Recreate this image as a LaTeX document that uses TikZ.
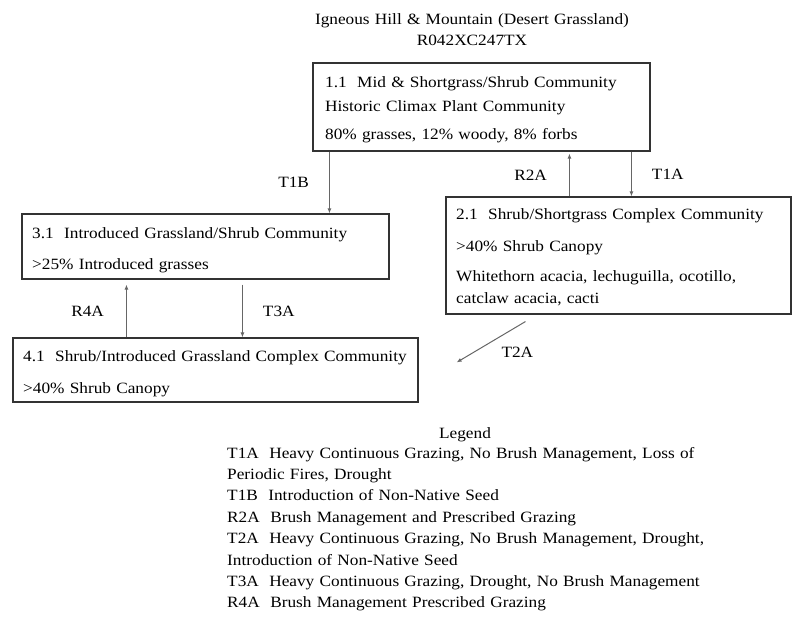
\documentclass[tikz,border=0pt]{standalone}
\usepackage{fontspec}
\setmainfont{Liberation Serif}[FakeStretch=1.1]
\usetikzlibrary{arrows.meta,positioning}
\tikzset{
  box/.style={draw=black!80,line width=1.1pt,inner sep=0pt},
  txt/.style={inner sep=0pt,anchor=base west,align=left,text width=#1,font=\fontsize{15.7}{22}\selectfont},
  lbl/.style={inner sep=0pt,font=\fontsize{15.7}{17}\selectfont,text=black},
  arr/.style={->,draw=black!60,line width=1pt}
}
\begin{document}
\begin{tikzpicture}[x=1pt,y=-1pt,>={Latex[length=5pt,width=4pt]}]
        \useasboundingbox(0,0)rectangle(800,624);
        % title
        \node[txt=400pt,align=center,anchor=base,font=\fontsize{15.7}{21}\selectfont](0)at(472,24){Igneous Hill \& Mountain (Desert Grassland)\\R042XC247TX};
        % states
        \node[box,minimum width=337pt,minimum height=88pt](1)at(481.5,107){};
        \node[box,minimum width=345pt,minimum height=117pt](2)at(618.5,255.5){};
        \node[box,minimum width=367pt,minimum height=65pt](3)at(205.5,246.5){};
        \node[box,minimum width=405pt,minimum height=64pt](4)at(215.5,370){};
        \node[txt=320pt](1a)at(325,87){1.1~~Mid \& Shortgrass/Shrub Community\\[2pt]Historic Climax Plant Community\\[6pt]80\% grasses, 12\% woody, 8\% forbs};
        \node[txt=330pt](2a)at(456,219){2.1~~Shrub/Shortgrass Complex Community\\[10pt]>40\% Shrub Canopy\\[8pt]Whitethorn acacia, lechuguilla, ocotillo,\\catclaw acacia, cacti};
        \node[txt=350pt](3a)at(32,238){3.1~~Introduced Grassland/Shrub Community\\[9pt]>25\% Introduced grasses};
        \node[txt=395pt](4a)at(23,361){4.1~~Shrub/Introduced Grassland Complex Community\\[10pt]>40\% Shrub Canopy};
        % transitions
        \draw[arr]([xshift=17pt]1.south west)--([xshift=308pt]3.north west)node[lbl,midway,left=20pt]{T1B};
        \draw[arr]([xshift=124pt]2.north west)--([xshift=257pt,yshift=-2pt]1.south west)node[lbl,midway,left=22pt]{R2A};
        \draw[arr]([xshift=319pt]1.south west)--([xshift=186pt]2.north west)node[lbl,midway,right=20pt]{T1A};
        \draw[arr]([xshift=114pt]4.north west)--([xshift=105pt,yshift=-5pt]3.south west)node[lbl,midway,left=22pt]{R4A};
        \draw[arr]([xshift=221pt,yshift=-5pt]3.south west)--([xshift=230pt]4.north west)node[lbl,midway,right=20pt]{T3A};
        \draw[arr]([xshift=80pt,yshift=-7pt]2.south west)--([xshift=38pt,yshift=-25pt]4.north east)node[lbl,midway,below right=5pt and 10pt]{T2A};
        % legend
        \node[txt=200pt,align=center,anchor=base](5)at(465,438){Legend};
        \node[txt=540pt,font=\fontsize{15.7}{21.4}\selectfont](6)at(227,458){T1A~~Heavy Continuous Grazing, No Brush Management, Loss of\\Periodic Fires, Drought\\T1B~~Introduction of Non-Native Seed\\R2A~~Brush Management and Prescribed Grazing\\T2A~~Heavy Continuous Grazing, No Brush Management, Drought,\\Introduction of Non-Native Seed\\T3A~~Heavy Continuous Grazing, Drought, No Brush Management\\R4A~~Brush Management Prescribed Grazing};
\end{tikzpicture}
\end{document}
